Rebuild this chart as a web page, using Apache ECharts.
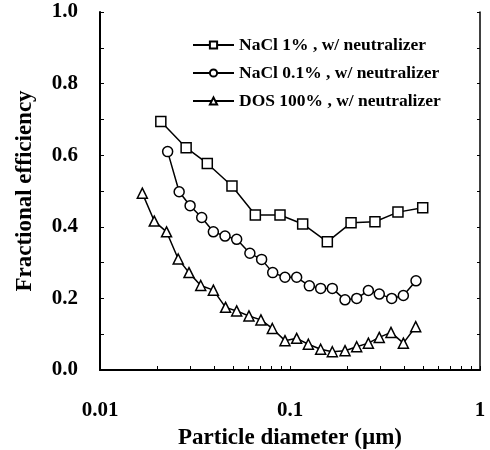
<!DOCTYPE html>
<html>
<head>
<meta charset="utf-8">
<script src="https://cdn.jsdelivr.net/npm/echarts@6/dist/echarts.min.js"></script>
<style>
  html, body { margin: 0; padding: 0; background: #fff; }
  #chart { width: 490px; height: 450px; }
</style>
</head>
<body>
<div id="chart"></div>
<script>
// Particle diameters (µm) and fractional efficiencies for each aerosol
const nacl1Diam = [0.0209, 0.0284, 0.0367, 0.0495, 0.0657, 0.0886, 0.1166, 0.1572, 0.2096, 0.280, 0.370, 0.4995];
const nacl1Eff  = [0.694, 0.621, 0.577, 0.514, 0.433, 0.433, 0.408, 0.358, 0.411, 0.414, 0.441, 0.453];

const nacl01Diam = [0.0227, 0.0261, 0.0298, 0.0343, 0.0395, 0.0455, 0.0524, 0.0615, 0.0709, 0.0811, 0.0941, 0.1084,
                    0.1264, 0.145, 0.167, 0.1948, 0.2244, 0.2585, 0.295, 0.343, 0.395, 0.4605];
const nacl01Eff  = [0.610, 0.498, 0.459, 0.426, 0.386, 0.374, 0.365, 0.326, 0.309, 0.272, 0.259, 0.259,
                    0.235, 0.228, 0.228, 0.196, 0.200, 0.222, 0.212, 0.200, 0.208, 0.249];

const dosDiam = [0.0167, 0.0193, 0.0224, 0.0258, 0.0294, 0.0339, 0.0395, 0.0458, 0.0524, 0.0608, 0.0703, 0.0807,
                 0.0941, 0.1084, 0.1249, 0.145, 0.167, 0.1948, 0.2244, 0.2585, 0.295, 0.340, 0.395, 0.4587];
const dosEff  = [0.494, 0.416, 0.386, 0.310, 0.272, 0.236, 0.223, 0.175, 0.165, 0.151, 0.140, 0.116,
                 0.082, 0.0885, 0.072, 0.058, 0.051, 0.054, 0.065, 0.075, 0.091, 0.105, 0.075, 0.121];

const seriesNames = ['NaCl 1% , w/ neutralizer', 'NaCl 0.1% , w/ neutralizer', 'DOS 100% , w/ neutralizer'];

// Tick positions on the log axis: every 1..9 × decade
const xTickValues = [0.01, 0.02, 0.03, 0.04, 0.05, 0.06, 0.07, 0.08, 0.09,
                     0.1, 0.2, 0.3, 0.4, 0.5, 0.6, 0.7, 0.8, 0.9, 1];
const xLabelValues = [0.01, 0.1, 1];

const FONT = '"Liberation Serif", "Times New Roman", serif';

function pairs(xs, ys) { return xs.map((x, i) => [x, ys[i]]); }

function lineSeries(name, xs, ys, symbol, size) {
  return {
    name: name,
    type: 'line',
    data: pairs(xs, ys),
    symbol: symbol,
    symbolSize: size,
    showAllSymbol: true,
    lineStyle: { color: '#000', width: 1.5 },
    itemStyle: { color: '#fff', borderColor: '#000', borderWidth: 1.5 },
    emphasis: { disabled: true },
    z: 3
  };
}

const chart = echarts.init(document.getElementById('chart'), null, { renderer: 'canvas' });

chart.setOption({
  animation: false,
  backgroundColor: '#fff',
  grid: { left: 100, right: 10, top: 12, bottom: 80, containLabel: false, outerBoundsMode: 'none' },
  legend: {
    orient: 'vertical',
    left: 187,
    top: 31,
    itemWidth: 41,
    itemHeight: 9,
    itemGap: 10,
    textStyle: { fontFamily: FONT, fontWeight: 'bold', fontSize: 17.5, color: '#000' },
    data: seriesNames
  },
  xAxis: [{
    type: 'log',
    logBase: 10,
    min: 0.01,
    max: 1,
    name: 'Particle diameter (µm)',
    nameLocation: 'middle',
    nameGap: 57,
    nameTextStyle: { fontFamily: FONT, fontWeight: 'bold', fontSize: 23, color: '#000' },
    axisLine: { lineStyle: { color: '#000', width: 2 } },
    axisTick: { inside: true, length: 4, customValues: xTickValues, lineStyle: { color: '#000', width: 1 } },
    axisLabel: {
      customValues: xLabelValues,
      margin: 30,
      fontFamily: FONT, fontWeight: 'bold', fontSize: 21, color: '#000',
      formatter: v => String(v)
    },
    splitLine: { show: false }
  }, {
    type: 'log',
    logBase: 10,
    min: 0.01,
    max: 1,
    position: 'top',
    axisLine: { show: true, lineStyle: { color: '#000', width: 1.5 } },
    axisTick: { show: false },
    axisLabel: { show: false },
    splitLine: { show: false }
  }],
  yAxis: [{
    type: 'value',
    min: 0,
    max: 1,
    interval: 0.2,
    name: 'Fractional efficiency',
    nameLocation: 'middle',
    nameGap: 63,
    nameTextStyle: { fontFamily: FONT, fontWeight: 'bold', fontSize: 23, color: '#000' },
    axisLine: { show: true, lineStyle: { color: '#000', width: 2 } },
    axisTick: { inside: true, length: 4, lineStyle: { color: '#000', width: 1 } },
    minorTick: { show: true, splitNumber: 2, length: 4, lineStyle: { color: '#000', width: 1 } },
    axisLabel: {
      margin: 22,
      padding: [10, 0, 0, 0],
      fontFamily: FONT, fontWeight: 'bold', fontSize: 21, color: '#000',
      formatter: v => v.toFixed(1)
    },
    splitLine: { show: false }
  }, {
    type: 'value',
    min: 0,
    max: 1,
    interval: 0.1,
    position: 'right',
    axisLine: { show: true, lineStyle: { color: '#000', width: 1.5 } },
    axisTick: { inside: true, length: 3, lineStyle: { color: '#000', width: 1 } },
    axisLabel: { show: false },
    splitLine: { show: false }
  }],
  series: [
    lineSeries(seriesNames[0], nacl1Diam, nacl1Eff, 'rect', 10),
    lineSeries(seriesNames[1], nacl01Diam, nacl01Eff, 'circle', 10),
    lineSeries(seriesNames[2], dosDiam, dosEff, 'triangle', 10)
  ]
});
</script>
</body>
</html>
